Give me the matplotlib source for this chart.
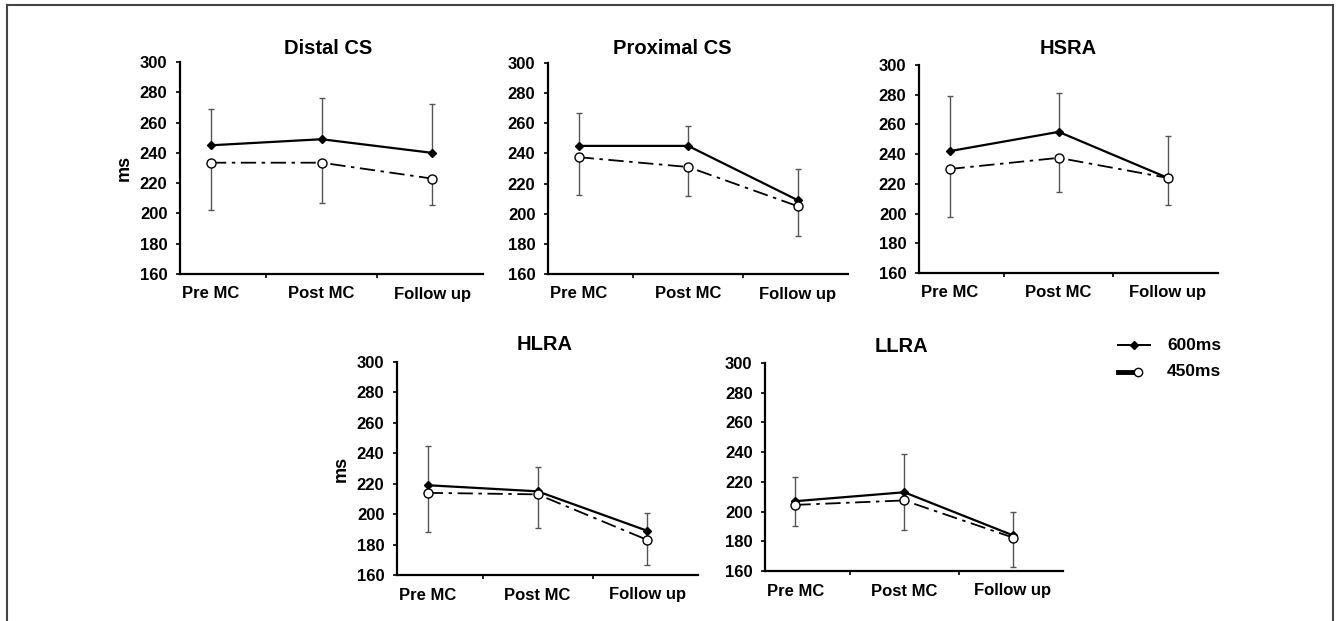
import matplotlib
matplotlib.use("Agg")
import matplotlib.pyplot as plt
from matplotlib.lines import Line2D

plt.rcParams['font.family'] = ['Liberation Sans', 'DejaVu Sans']
plt.rcParams['font.weight'] = 'bold'
plt.rcParams['lines.scale_dashes'] = False

# ---- data ----
categories = ["Pre MC", "Post MC", "Follow up"]
panel_titles = ["Distal CS", "Proximal CS", "HSRA", "HLRA", "LLRA"]
series_labels = ["600ms", "450ms"]
y_ticks = [160, 180, 200, 220, 240, 260, 280, 300]

mean_600 = [
    [245, 249, 240],
    [245, 245, 209],
    [242, 255, 224],
    [219, 215, 189],
    [207, 213, 184],
]
err_600 = [  # upward error bars
    [24, 27, 32.5],
    [22, 13.5, 21],
    [37, 26, 28],
    [26, 16, 11.5],
    [16, 26, 16],
]
mean_450 = [
    [233.5, 233.5, 223],
    [237.5, 231, 205],
    [230, 237.5, 224],
    [214, 213, 183],
    [204.5, 207.5, 182.5],
]
err_450 = [  # downward error bars
    [31.5, 26.5, 17.5],
    [25, 19, 19.5],
    [32, 23, 18.4],
    [26, 22, 16.6],
    [14, 20, 19.5],
]
show_ylabel = [True, False, False, True, False]

# ---- layout (pixels) ----
W, H = 1340, 621
fig = plt.figure(figsize=(W / 100, H / 100), dpi=100)

boxes = [  # left, right, top, bottom in pixels
    (180, 483, 62, 274),
    (548, 848, 63, 274),
    (919, 1218, 65, 273),
    (397, 698, 362, 575),
    (765, 1063, 363, 571),
]
title_pos = [(328, 49), (672, 49), (1068, 49), (545, 345), (901, 347)]

for i, (l, r, t, b) in enumerate(boxes):
    ax = fig.add_axes([l / W, (H - b) / H, (r - l) / W, (b - t) / H])
    x = list(range(len(categories)))
    ax.errorbar(x, mean_600[i], yerr=[[0] * 3, err_600[i]], fmt='none',
                ecolor='#555555', elinewidth=1.0, capsize=2, capthick=1.0, zorder=2)
    ax.errorbar(x, mean_450[i], yerr=[err_450[i], [0] * 3], fmt='none',
                ecolor='#555555', elinewidth=1.0, capsize=2, capthick=1.0, zorder=2)
    ax.plot(x, mean_600[i], color='black', lw=1.6, marker='D', ms=4,
            mfc='black', mec='black', zorder=3)
    ax.plot(x, mean_450[i], color='black', lw=1.3, dashes=(11, 4, 2.5, 4),
            marker='o', ms=6.5, mfc='white', mec='black', mew=1.0, zorder=4)
    ax.set_xlim(-0.28, 2.46)
    ax.set_ylim(160, 300)
    ax.set_yticks(y_ticks)
    ax.tick_params(axis='y', direction='out', length=3, width=1.2, labelsize=12, pad=6)
    ax.set_xticks(x)
    ax.set_xticklabels(categories)
    ax.set_xticks([0.5, 1.5], minor=True)
    ax.tick_params(axis='x', which='major', length=0, labelsize=12, pad=9)
    ax.tick_params(axis='x', which='minor', direction='out', length=3, width=1.2)
    for s in ['top', 'right']:
        ax.spines[s].set_visible(False)
    for s in ['left', 'bottom']:
        ax.spines[s].set_linewidth(1.6)
    for lab in ax.get_xticklabels() + ax.get_yticklabels():
        lab.set_fontweight('bold')
    if show_ylabel[i]:
        ax.set_ylabel("ms", fontsize=13, fontweight='bold', labelpad=5)
    tx, ty = title_pos[i]
    fig.text(tx / W, 1 - ty / H, panel_titles[i], ha='center', va='center',
             fontsize=14.5, fontweight='bold')

# ---- legend ----
y1 = 1 - 345 / H
y2 = 1 - 372 / H
fig.add_artist(Line2D([1118 / W, 1150 / W], [y1, y1], color='black', lw=1.4))
fig.add_artist(Line2D([1134 / W], [y1], color='black', marker='D', ms=4, lw=0))
fig.text(1167 / W, y1, series_labels[0], ha='left', va='center', fontsize=12.5, fontweight='bold')
fig.add_artist(Line2D([1118 / W, 1134 / W], [y2, y2], color='black', lw=3.5))
fig.add_artist(Line2D([1138 / W], [y2], color='black', marker='o', ms=6,
                      mfc='white', mec='black', lw=0))
fig.text(1167 / W, y2, series_labels[1], ha='left', va='center', fontsize=12.5, fontweight='bold')

# ---- frame (top, left, right) ----
fc = '#444444'
fig.add_artist(Line2D([7 / W, 1333 / W], [1 - 5 / H, 1 - 5 / H], color=fc, lw=1.5))
fig.add_artist(Line2D([7 / W, 7 / W], [0, 1 - 5 / H], color=fc, lw=1.5))
fig.add_artist(Line2D([1333 / W, 1333 / W], [0, 1 - 5 / H], color=fc, lw=1.5))

fig.savefig("out.png", dpi=100, facecolor='white')
